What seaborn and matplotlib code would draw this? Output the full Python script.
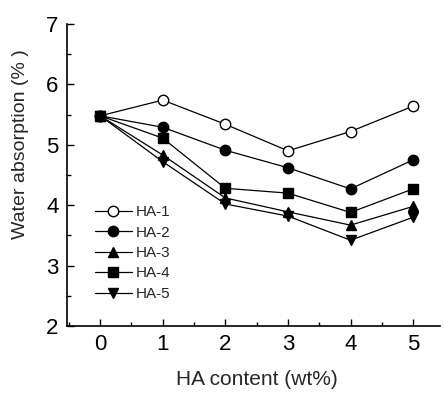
import matplotlib
matplotlib.use("Agg")
import matplotlib.pyplot as plt
from matplotlib.ticker import MultipleLocator
import seaborn as sns
import pandas as pd

ha_content = [0, 1, 2, 3, 4, 5]
ha1 = [5.48, 5.74, 5.34, 4.90, 5.22, 5.64]
ha2 = [5.48, 5.29, 4.91, 4.62, 4.27, 4.75]
ha3 = [5.48, 4.83, 4.12, 3.89, 3.67, 3.98]
ha4 = [5.48, 5.11, 4.28, 4.20, 3.88, 4.27]
ha5 = [5.48, 4.72, 4.02, 3.82, 3.42, 3.80]
series_names = ["HA-1", "HA-2", "HA-3", "HA-4", "HA-5"]
series_values = [ha1, ha2, ha3, ha4, ha5]

sns.set_style("ticks")
plt.rcParams['font.family'] = ['Liberation Sans', 'DejaVu Sans']

fig = plt.figure(figsize=(4.44, 3.94), dpi=100)
ax = fig.add_axes([67/444, 1-326/394, (440-67)/444, (326-24)/394])

markers = ["o", "o", "^", "s", "v"]
sizes = [7.5, 7.5, 7.5, 7.0, 7.5]
faces = ["white", "black", "black", "black", "black"]
for name, vals, m, ms, fc in zip(series_names, series_values, markers, sizes, faces):
    df = pd.DataFrame({"x": ha_content, "y": vals})
    sns.lineplot(data=df, x="x", y="y", ax=ax, color="black", lw=0.9,
                 marker=m, markersize=ms, markerfacecolor=fc,
                 markeredgecolor="black", markeredgewidth=1.0, label=name)

ax.set_xlim(-0.53, 5.43)
ax.set_ylim(2, 7)
ax.xaxis.set_major_locator(MultipleLocator(1))
ax.xaxis.set_minor_locator(MultipleLocator(0.5))
ax.yaxis.set_major_locator(MultipleLocator(1))
ax.yaxis.set_minor_locator(MultipleLocator(0.5))
ax.tick_params(which="both", direction="in", colors="black", labelsize=16, width=1)
ax.tick_params(which="major", length=5, pad=6)
ax.tick_params(which="minor", length=3)
for s in ["top", "right"]:
    ax.spines[s].set_visible(False)
for s in ["left", "bottom"]:
    ax.spines[s].set_color("black")
    ax.spines[s].set_linewidth(1.2)

ax.set_xlabel("HA content (wt%)", fontsize=15)
ax.set_ylabel("Water absorption (% )", fontsize=14)
ax.xaxis.set_label_coords(0.508, -0.145)
ax.yaxis.set_label_coords(-0.102, 0.603)

leg = ax.legend(loc="upper left", bbox_to_anchor=(0.075, 0.40), frameon=False,
                fontsize=11, handlelength=2.4, handletextpad=0.3,
                labelspacing=0.42, markerscale=1.0, borderaxespad=0,
                borderpad=0)

fig.savefig("out.png", dpi=100)
